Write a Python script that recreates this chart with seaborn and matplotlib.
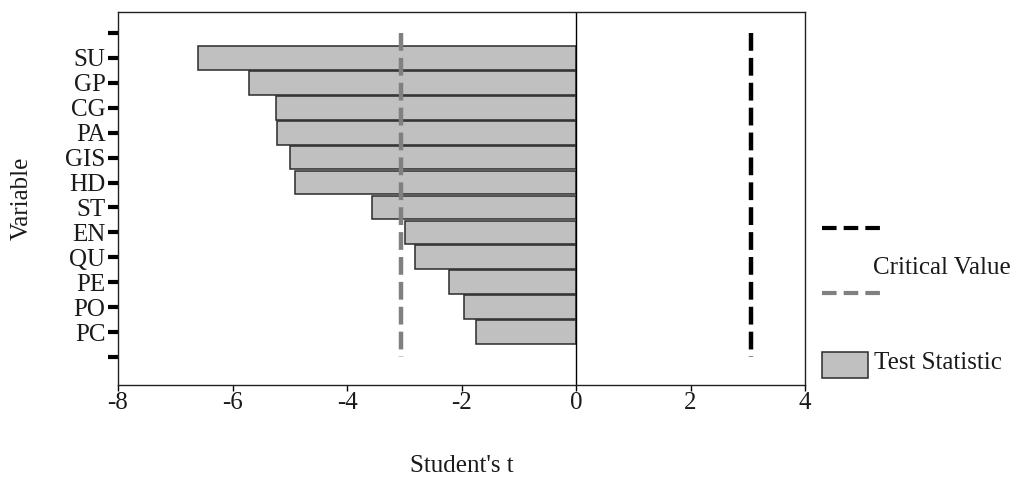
import matplotlib
matplotlib.use("Agg")
import matplotlib.pyplot as plt
from matplotlib.lines import Line2D
from matplotlib.patches import Rectangle
import seaborn as sns
import pandas as pd

variables = ["SU", "GP", "CG", "PA", "GIS", "HD", "ST", "EN", "QU", "PE", "PO", "PC"]
t_values = [-6.61, -5.72, -5.24, -5.23, -5.00, -4.91, -3.57, -2.99, -2.81, -2.22, -1.96, -1.75]
critical_low = -3.06
critical_high = 3.06
x_ticks = [-8, -6, -4, -2, 0, 2, 4]

sns.set_style("white")
plt.rcParams['font.family'] = ['Liberation Serif', 'DejaVu Serif']
plt.rcParams['text.color'] = '#1a1a1a'

df = pd.DataFrame({"Variable": variables, "t": t_values})

W, H = 1023, 480
fig = plt.figure(figsize=(W / 100, H / 100), dpi=100)
ax_l, ax_r, ax_t, ax_b = 118, 805, 12, 385
ax = fig.add_axes([ax_l / W, 1 - ax_b / H, (ax_r - ax_l) / W, (ax_b - ax_t) / H])

sns.barplot(data=df, x="t", y="Variable", orient="h", order=variables,
            color="#c0c0c0", saturation=1, edgecolor="#2b2b2b", linewidth=1.1,
            width=0.95, ax=ax)

n = len(variables)
ax.set_xlim(-8, 4)
ax.set_ylim(n + 1.12, -1 - 0.84)
ax.set_yticks(list(range(-1, n + 1)))
ax.set_yticklabels([""] + variables + [""])
ax.set_xticks(x_ticks)
ax.set_xticklabels([str(v) for v in x_ticks])

ax.axvline(0, color="black", lw=1.0, zorder=1)
ax.vlines(critical_low, -1, n, colors="#808080", lw=3.2, linestyles=(0, (4, 1.6)), zorder=3)
ax.vlines(critical_high, -1, n, colors="black", lw=3.2, linestyles=(0, (4, 1.6)), zorder=3)

for s in ax.spines.values():
    s.set_color("#222222")
    s.set_linewidth(1.0)

fs = 18
ax.tick_params(axis="y", direction="out", length=7, width=3, color="black",
               labelsize=fs, pad=2, left=True, labelcolor="#1a1a1a")
ax.tick_params(axis="x", direction="out", length=4, width=1, color="black",
               labelsize=fs, pad=1, bottom=True, labelcolor="#1a1a1a")

ax.set_ylabel("Variable", fontsize=fs, color="#1a1a1a")
ax.set_xlabel("Student's t", fontsize=fs, color="#1a1a1a")
ax.xaxis.set_label_coords(0.5, (ax_b - 466) / (ax_b - ax_t))
ax.xaxis.label.set_va("center")
ax.yaxis.set_label_coords((22 - ax_l) / (ax_r - ax_l), (ax_b - 198) / (ax_b - ax_t))
ax.yaxis.label.set_va("center")
ax.yaxis.label.set_ha("center")

# legend (outside right)
def fx(px):
    return px / W
def fy(py):
    return 1 - py / H

fig.add_artist(Line2D([fx(822), fx(884)], [fy(228), fy(228)], color="black", lw=3.0,
                      linestyle=(0, (3.5, 1.7)), transform=fig.transFigure))
fig.text(fx(873), fy(268), "Critical Value", fontsize=fs, va="center", ha="left")
fig.add_artist(Line2D([fx(822), fx(884)], [fy(293), fy(293)], color="#808080", lw=3.0,
                      linestyle=(0, (3.5, 1.7)), transform=fig.transFigure))
fig.add_artist(Rectangle((fx(822), fy(378)), fx(868) - fx(822), fy(352) - fy(378),
                         facecolor="#c0c0c0", edgecolor="#2b2b2b", lw=1.1,
                         transform=fig.transFigure))
fig.text(fx(874), fy(363), "Test Statistic", fontsize=fs, va="center", ha="left")

fig.savefig("out.png", dpi=100)
